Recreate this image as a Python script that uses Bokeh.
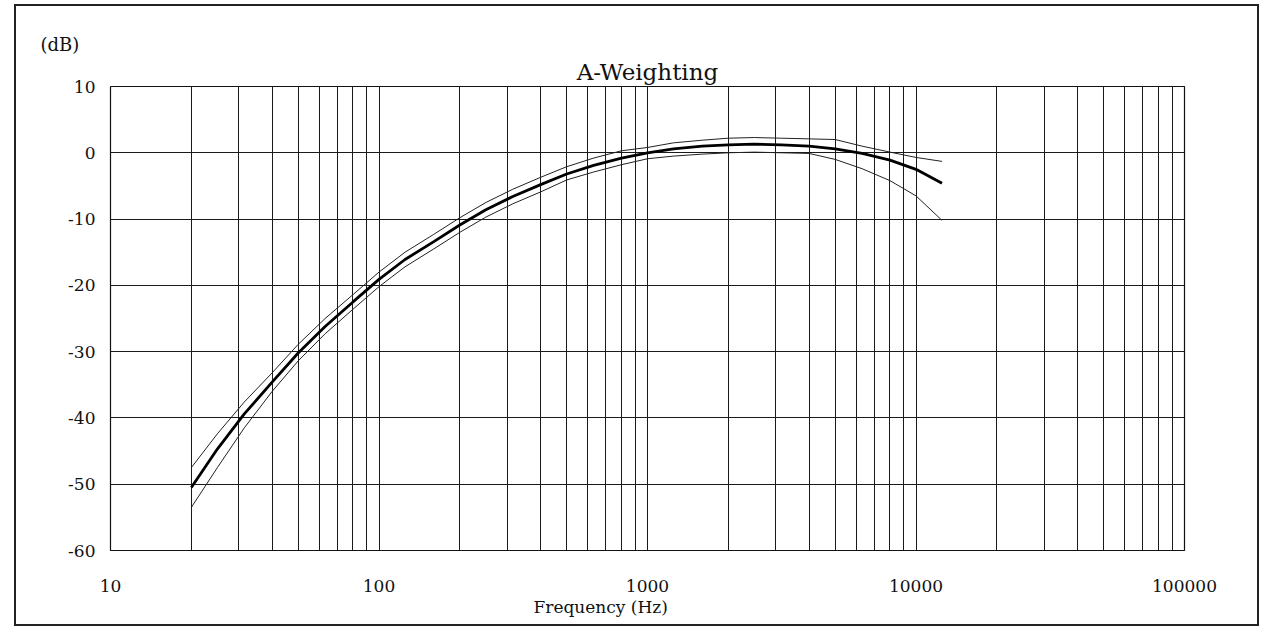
from bokeh.plotting import figure
from bokeh.models import FixedTicker, PrintfTickFormatter, Range1d, Title
from bokeh.embed import file_html
from bokeh.resources import INLINE

# Third-octave frequencies (Hz)
freq = [20, 25, 31.5, 40, 50, 63, 80, 100, 125, 160, 200, 250, 315, 400, 500,
        630, 800, 1000, 1250, 1600, 2000, 2500, 3150, 4000, 5000, 6300, 8000,
        10000, 12500]

# A-weighting curve (dB)
a_weight = [-50.5, -44.7, -39.4, -34.6, -30.2, -26.2, -22.5, -19.1, -16.1, -13.4,
            -10.9, -8.6, -6.6, -4.8, -3.2, -1.9, -0.8, 0.0, 0.6, 1.0, 1.2, 1.3,
            1.2, 1.0, 0.6, -0.1, -1.1, -2.5, -4.6]

# Upper tolerance limit (dB)
upper = [-47.5, -42.4, -37.6, -33.2, -28.9, -25.0, -21.4, -18.0, -15.0, -12.3,
         -9.8, -7.5, -5.5, -3.7, -2.1, -0.8, 0.3, 0.8, 1.5, 1.9, 2.2, 2.3,
         2.2, 2.1, 2.0, 1.0, 0.1, -0.7, -1.3]

# Lower tolerance limit (dB)
lower = [-53.5, -47.5, -41.5, -36.0, -31.4, -27.3, -23.6, -20.2, -17.2, -14.5,
         -12.0, -9.7, -7.7, -5.9, -4.1, -2.9, -1.8, -0.9, -0.5, -0.2, 0.0, 0.1,
         0.0, -0.1, -1.0, -2.4, -4.2, -6.5, -10.2]

x_tick_vals = [10, 100, 1000, 10000, 100000]
x_grid_vals = [m * d for d in [10, 100, 1000, 10000] for m in range(1, 10)] + [100000]
y_tick_vals = [-60, -50, -40, -30, -20, -10, 0, 10]

FONT = "DejaVu Serif"

p = figure(width=1245, height=622, x_axis_type="log",
           x_range=Range1d(10, 100000), y_range=Range1d(-60, 10),
           output_backend="svg", toolbar_location=None,
           min_border_left=94, min_border_right=77,
           min_border_top=80, min_border_bottom=78)
p.title = None

p.styles = {"border": "2px solid #222", "margin-left": "14px", "margin-top": "4px"}

# titles (first added sits nearest the frame)
main_title = Title(text="A-Weighting", align="center", standoff=4,
                   text_font=FONT, text_font_size="23px", text_font_style="normal",
                   text_color="#111111", text_line_height=0.5)
p.add_layout(main_title, "above")
db_title = Title(text="(dB)", align="left", offset=-70, standoff=0,
                 text_font=FONT, text_font_size="18px", text_font_style="normal",
                 text_color="#111111")
p.add_layout(db_title, "above")

# axes
p.xaxis.ticker = FixedTicker(ticks=x_tick_vals)
p.xaxis.formatter = PrintfTickFormatter(format="%d")
p.yaxis.ticker = FixedTicker(ticks=y_tick_vals)
p.yaxis.formatter = PrintfTickFormatter(format="%d")
for ax in (p.xaxis[0], p.yaxis[0]):
    ax.axis_line_color = None
    ax.major_tick_line_color = None
    ax.minor_tick_line_color = None
    ax.major_tick_out = 0
    ax.major_tick_in = 0
    ax.minor_tick_out = 0
    ax.minor_tick_in = 0
    ax.major_label_text_font = FONT
    ax.major_label_text_font_size = "17px"
    ax.major_label_text_color = "#111111"
p.xaxis.major_label_standoff = 29
p.yaxis.major_label_standoff = 15

# grid
p.xgrid.ticker = FixedTicker(ticks=x_grid_vals)
p.ygrid.ticker = FixedTicker(ticks=y_tick_vals)
for g in (p.xgrid[0], p.ygrid[0]):
    g.grid_line_color = "#1a1a1a"
    g.grid_line_width = 1
    g.grid_line_alpha = 1.0

p.outline_line_color = "#111111"
p.outline_line_width = 1.2

# curves
p.line(freq, upper, line_color="#222222", line_width=1)
p.line(freq, lower, line_color="#222222", line_width=1)
p.line(freq, a_weight, line_color="#000000", line_width=2.8)

# x axis title
xt = Title(text="Frequency (Hz)", align="left", offset=423, standoff=0,
           text_font=FONT, text_font_size="17px", text_font_style="normal",
           text_color="#111111")
p.add_layout(xt, "below")

open("out.html", "w").write(file_html(p, INLINE))
